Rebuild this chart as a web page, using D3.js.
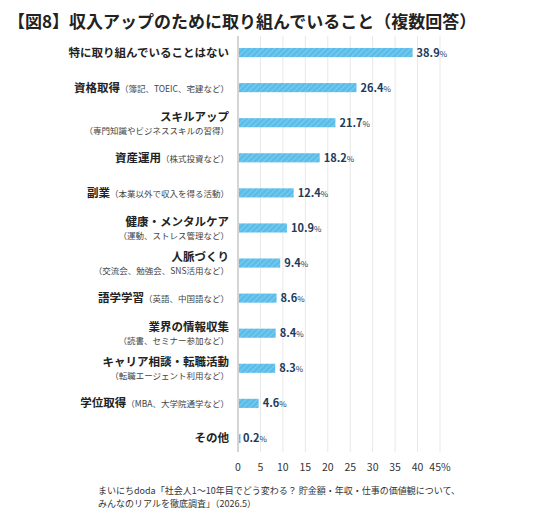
<!DOCTYPE html>
<html lang="ja">
<head>
<meta charset="UTF-8">
<script src="https://d3js.org/d3.v7.min.js"></script>
<style>
  body { margin:0; background:#fff; }
  text { font-family: "Noto Sans CJK JP", sans-serif; }
</style>
</head>
<body>
<div id="container"></div>
<script>
// 項目（メイン / 補足）
var mains = ["特に取り組んでいることはない","資格取得","スキルアップ","資産運用","副業","健康・メンタルケア","人脈づくり","語学学習","業界の情報収集","キャリア相談・転職活動","学位取得","その他"];
var subs = ["","（簿記、TOEIC、宅建など）","（専門知識やビジネススキルの習得）","（株式投資など）","（本業以外で収入を得る活動）","（運動、ストレス管理など）","（交流会、勉強会、SNS活用など）","（英語、中国語など）","（読書、セミナー参加など）","（転職エージェント利用など）","（MBA、大学院通学など）",""];
var inline = [false,true,false,true,true,false,false,true,false,false,true,false];
var values = [38.9,26.4,21.7,18.2,12.4,10.9,9.4,8.6,8.4,8.3,4.6,0.2];
var ticks = [0,5,10,15,20,25,30,35,40,45];

var width = 553, height = 515;
var svg = d3.select("#container").append("svg").attr("width", width).attr("height", height);

var defs = svg.append("defs");
var pat = defs.append("pattern").attr("id","hatch").attr("patternUnits","userSpaceOnUse")
  .attr("width",4).attr("height",4).attr("patternTransform","rotate(45)");
pat.append("rect").attr("width",4).attr("height",4).attr("fill","#5bbde9");
pat.append("line").attr("x1",0).attr("y1",0).attr("x2",0).attr("y2",4).attr("stroke","#9ad6f2").attr("stroke-width",1.2);

svg.append("text").attr("x",8).attr("y",28).attr("font-size",17).attr("font-weight","bold").attr("fill","#222")
  .text("【図8】収入アップのために取り組んでいること（複数回答）");

var x = d3.scaleLinear().domain([0,45]).range([238,440]);
var y = d3.scaleBand().domain(d3.range(mains.length)).range([35,456]).paddingInner(0.74).paddingOuter(0.37);

// grid
svg.append("g").selectAll("line").data(ticks.slice(1)).join("line")
  .attr("x1", d => x(d)).attr("x2", d => x(d)).attr("y1", 36).attr("y2", 452)
  .attr("stroke","#e8e8e8");
svg.append("line").attr("x1",x(0)).attr("x2",x(0)).attr("y1",36).attr("y2",452).attr("stroke","#aaa");

svg.append("g").selectAll("rect").data(values).join("rect")
  .attr("x", x(0)+1).attr("y", (d,i) => y(i)).attr("height", y.bandwidth())
  .attr("width", d => Math.max(1.5, x(d)-x(0)-1)).attr("fill","url(#hatch)");

var vl = svg.append("g").selectAll("text").data(values).join("text")
  .attr("x", d => x(d)+4).attr("y", (d,i) => y(i)+y.bandwidth()/2+4)
  .attr("font-size",11).attr("font-weight","bold").attr("fill","#1b3a5c");
vl.append("tspan").text(d => d.toFixed(1));
vl.append("tspan").attr("font-size",8).attr("font-weight","normal").text("%");

var lab = svg.append("g").selectAll("g").data(mains).join("g")
  .attr("transform", (d,i) => `translate(229,${y(i)+y.bandwidth()/2})`);
lab.each(function(d,i){
  var g = d3.select(this);
  if (subs[i] && !inline[i]) {
    g.append("text").attr("text-anchor","end").attr("y",-2).attr("font-size",11.5).attr("font-weight","bold").attr("fill","#222").text(d);
    g.append("text").attr("text-anchor","end").attr("y",11).attr("font-size",8.5).attr("fill","#444").text(subs[i]);
  } else {
    var t = g.append("text").attr("text-anchor","end").attr("y",4).attr("fill","#222");
    t.append("tspan").attr("font-size",11.5).attr("font-weight","bold").text(d);
    if (subs[i]) t.append("tspan").attr("font-size",8.5).attr("fill","#444").text(subs[i]);
  }
});

svg.append("g").selectAll("text").data(ticks).join("text")
  .attr("x", d => x(d)).attr("y",471).attr("text-anchor","middle").attr("font-size",10.5).attr("fill","#333")
  .text(d => d === 45 ? "45%" : d);

svg.append("text").attr("x",98).attr("y",494).attr("font-size",9).attr("fill","#333")
  .text("まいにちdoda「社会人1～10年目でどう変わる？ 貯金額・年収・仕事の価値観について、");
svg.append("text").attr("x",98).attr("y",507).attr("font-size",9).attr("fill","#333")
  .text("みんなのリアルを徹底調査」（2026.5）");
</script>
</body>
</html>
